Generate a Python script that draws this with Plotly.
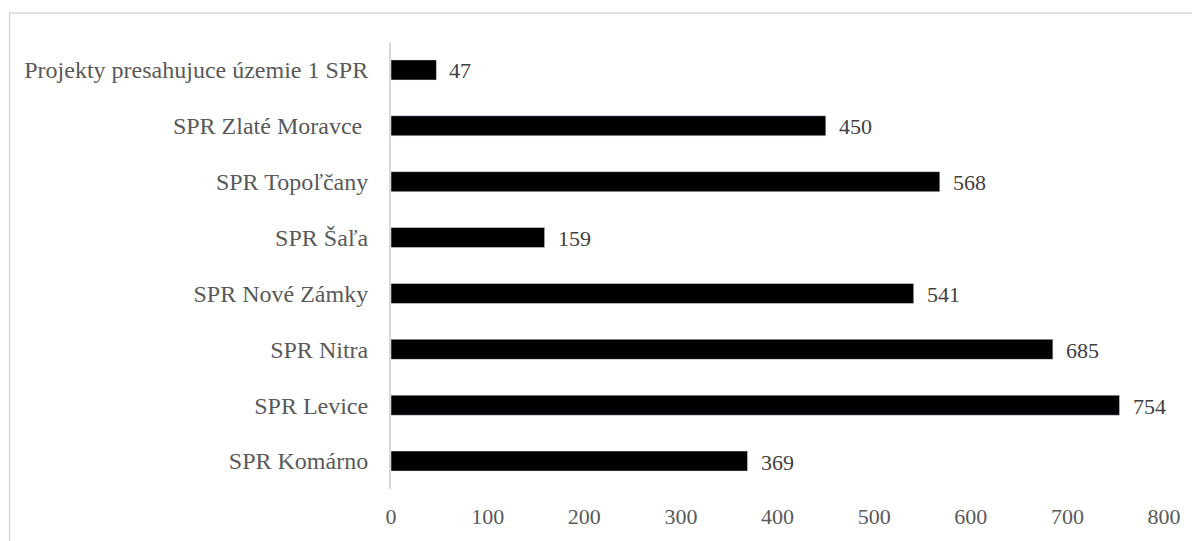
import plotly.graph_objects as go

# categories bottom -> top
regions = ["SPR Komárno", "SPR Levice", "SPR Nitra", "SPR Nové Zámky",
           "SPR Šaľa", "SPR Topoľčany", "SPR Zlaté Moravce ",
           "Projekty presahujuce územie 1 SPR"]
counts = [369, 754, 685, 541, 159, 568, 450, 47]
x_ticks = [0, 100, 200, 300, 400, 500, 600, 700, 800]

font_family = "Liberation Serif, Times New Roman, serif"

fig = go.Figure(go.Bar(
    x=counts,
    y=regions,
    orientation="h",
    marker=dict(color="black"),
    width=0.36,
    hoverinfo="x+y",
))

# value labels right of each bar
for r, c in zip(regions, counts):
    fig.add_annotation(x=c, y=r, text=str(c), showarrow=False,
                       xanchor="left", xshift=11, yshift=-1,
                       font=dict(family=font_family, size=22, color="#404040"))

# outer chart border
fig.add_shape(type="rect", xref="paper", yref="paper",
              x0=-0.4935, x1=1.2, y0=-0.3, y1=1.065,
              line=dict(color="#d9d9d9", width=1.5), layer="below")

fig.update_layout(
    width=1200, height=541,
    margin=dict(l=383, r=44, t=34, b=60),
    paper_bgcolor="white",
    plot_bgcolor="white",
    showlegend=False,
    font=dict(family=font_family, size=22, color="#595959"),
    xaxis=dict(range=[0, 800], tickvals=x_ticks, showgrid=False,
               zeroline=False, showline=False, ticks="",
               ticklabelstandoff=12,
               tickfont=dict(size=22, color="#595959")),
    yaxis=dict(showline=True, linecolor="#d9d9d9", linewidth=2,
               ticks="", ticklabelstandoff=16, showgrid=False,
               tickfont=dict(size=24, color="#595959")),
)

fig.write_html("out.html")
